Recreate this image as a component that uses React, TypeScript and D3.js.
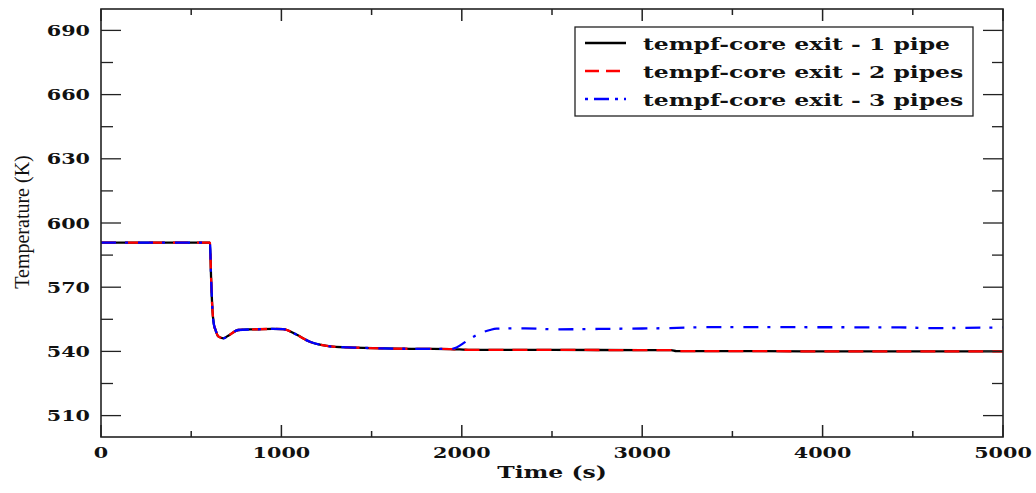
import React from "react";
import * as d3 from "d3";

// ---- data ----
const timesA = [0, 604, 610, 618, 625, 635, 650, 678, 710, 761, 850, 950, 1010, 1080, 1158, 1220, 1286, 1400, 1563, 1750, 1935, 2050, 2500, 3000, 3160, 3190, 3600, 4200, 5000];
const pipe1 = [590.8, 590.8, 575, 559, 553, 550, 547, 546.1, 547.6, 550, 550.3, 550.5, 550.4, 548, 544.5, 543, 542.2, 541.8, 541.4, 541.2, 541.1, 540.7, 540.7, 540.6, 540.6, 540.1, 540.1, 540.0, 540.0];
const pipe2 = [590.8, 590.8, 575, 559, 553, 550, 547, 546.2, 547.6, 550, 550.3, 550.5, 550.4, 548, 544.5, 543, 542.2, 541.8, 541.4, 541.2, 541.1, 540.7, 540.7, 540.6, 540.6, 540.1, 540.1, 540.0, 540.0];
const timesC = [0, 604, 610, 618, 625, 635, 650, 678, 710, 761, 850, 950, 1010, 1080, 1158, 1220, 1286, 1400, 1563, 1750, 1944, 2027, 2082, 2156, 2193, 2350, 2526, 2766, 3000, 3154, 3358, 3800, 4429, 4600, 5000];
const pipe3 = [590.8, 590.8, 575, 559, 553, 550, 547, 546.1, 547.6, 550, 550.3, 550.5, 550.4, 548, 544.5, 543, 542.2, 541.8, 541.4, 541.2, 541.2, 544.8, 547.7, 550, 550.6, 550.8, 550.3, 550.5, 550.7, 550.9, 551.3, 551.3, 551.2, 550.9, 551.2];

const seriesNames = ["tempf-core exit - 1 pipe", "tempf-core exit - 2 pipes", "tempf-core exit - 3 pipes"];
const seriesColors = ["#000000", "#ff0000", "#0000ff"];
const seriesDash = ["none", "15 9", "15 9 3 10"];

const xMajor = [0, 1000, 2000, 3000, 4000, 5000];
const xMinor = [500, 1500, 2500, 3500, 4500];
const yMajor = [510, 540, 570, 600, 630, 660, 690];
const yMinor = [525, 555, 585, 615, 645, 675];

const xTitle = "Time (s)";
const yTitle = "Temperature (K)";

// ---- layout ----
const W = 1036, H = 493;
const L = 101, R = 1003, T = 9, B = 437;
const SX = 1.38;
const FONT = "'DejaVu Serif', serif";

export default function App() {
  const x = d3.scaleLinear().domain([0, 5000]).range([L, R]);
  const y = d3.scaleLinear().domain([500, 700]).range([B, T]);
  const line = d3
    .line<[number, number]>()
    .x((d) => x(d[0]))
    .y((d) => y(d[1]))
    .curve(d3.curveMonotoneX);

  const series = [
    d3.zip(timesA, pipe1) as [number, number][],
    d3.zip(timesA, pipe2) as [number, number][],
    d3.zip(timesC, pipe3) as [number, number][],
  ];

  const axisColor = "#222";
  const textColor = "#111";

  const legendRows = [43, 71, 99];

  return (
    <svg width={W} height={H} style={{ position: "absolute", left: 0, top: 0, background: "#fff" }}>
      <rect x={0} y={0} width={W} height={H} fill="#fff" />
      <defs>
        <clipPath id="plot">
          <rect x={L} y={T} width={R - L} height={B - T} />
        </clipPath>
      </defs>

      {/* lines */}
      <g clipPath="url(#plot)">
        {series.map((s, i) => (
          <path
            key={i}
            d={line(s) || ""}
            fill="none"
            stroke={seriesColors[i]}
            strokeWidth={2.3}
            strokeDasharray={seriesDash[i]}
            strokeLinejoin="round"
          />
        ))}
      </g>

      {/* frame */}
      <rect x={L} y={T} width={R - L} height={B - T} fill="none" stroke={axisColor} strokeWidth={1.6} />

      {/* y ticks */}
      {yMajor.map((v) => (
        <g key={"ym" + v}>
          <line x1={L} x2={L + 20} y1={y(v)} y2={y(v)} stroke={axisColor} strokeWidth={1.3} />
          <line x1={R} x2={R - 20} y1={y(v)} y2={y(v)} stroke={axisColor} strokeWidth={1.3} />
          <text
            transform={`translate(${L - 11},${y(v) + 5.5}) scale(${SX},1)`}
            textAnchor="end"
            fontFamily={FONT}
            fontWeight="bold"
            fontSize={15}
            fill={textColor}
          >
            {v}
          </text>
        </g>
      ))}
      {yMinor.map((v) => (
        <g key={"yn" + v}>
          <line x1={L} x2={L + 12} y1={y(v)} y2={y(v)} stroke={axisColor} strokeWidth={1.3} />
          <line x1={R} x2={R - 11} y1={y(v)} y2={y(v)} stroke={axisColor} strokeWidth={1.3} />
        </g>
      ))}

      {/* x ticks */}
      {xMajor.map((v) => (
        <g key={"xm" + v}>
          <line x1={x(v)} x2={x(v)} y1={B} y2={B - 12} stroke={axisColor} strokeWidth={1.5} />
          <line x1={x(v)} x2={x(v)} y1={T} y2={T + 12} stroke={axisColor} strokeWidth={1.5} />
          <text
            transform={`translate(${x(v)},${B + 21}) scale(${SX},1)`}
            textAnchor="middle"
            fontFamily={FONT}
            fontWeight="bold"
            fontSize={15}
            fill={textColor}
          >
            {v}
          </text>
        </g>
      ))}
      {xMinor.map((v) => (
        <g key={"xn" + v}>
          <line x1={x(v)} x2={x(v)} y1={B} y2={B - 6} stroke={axisColor} strokeWidth={1.5} />
          <line x1={x(v)} x2={x(v)} y1={T} y2={T + 6} stroke={axisColor} strokeWidth={1.5} />
        </g>
      ))}

      {/* axis titles */}
      <text
        transform={`translate(${(L + R) / 2},${478}) scale(${SX},1)`}
        textAnchor="middle"
        fontFamily={FONT}
        fontWeight="bold"
        fontSize={17}
        fill={textColor}
      >
        {xTitle}
      </text>
      <text
        transform={`translate(29,${222}) rotate(-90)`}
        textAnchor="middle"
        fontFamily="'Liberation Serif', serif"
        fontSize={20}
        fill={textColor}
      >
        {yTitle}
      </text>

      {/* legend */}
      <rect x={575} y={27} width={398} height={89} fill="#fff" stroke={axisColor} strokeWidth={1.3} />
      {seriesNames.map((n, i) => (
        <g key={n}>
          <line
            x1={585}
            x2={626}
            y1={legendRows[i]}
            y2={legendRows[i]}
            stroke={seriesColors[i]}
            strokeWidth={2.3}
            strokeDasharray={i === 1 ? "14 7" : i === 2 ? "3 6 15 6" : "none"}
          />
          <text
            transform={`translate(643,${legendRows[i] + 7}) scale(${SX},1)`}
            fontFamily={FONT}
            fontWeight="bold"
            fontSize={17}
            fill={textColor}
          >
            {n}
          </text>
        </g>
      ))}
    </svg>
  );
}
